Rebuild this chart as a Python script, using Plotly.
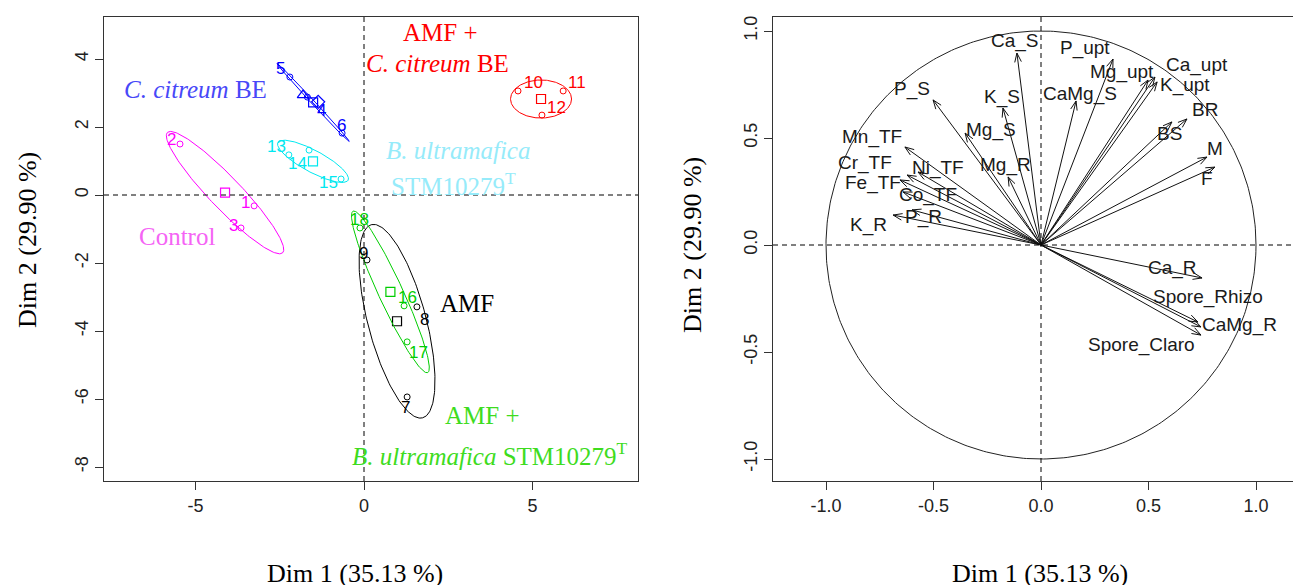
import numpy as np
import plotly.graph_objects as go

# ---------------- data: individuals (left panel) ----------------
ind_labels = ["1", "2", "3", "4", "5", "6", "7", "8", "9",
              "10", "11", "12", "13", "14", "15", "16", "17", "18"]
ind_dim1 = [-3.26, -5.46, -3.65, -1.68, -2.20, -0.65, 1.28, 1.57, 0.09,
            4.57, 5.91, 5.28, -2.23, -1.63, -0.68, 1.19, 1.28, -0.12]
ind_dim2 = [-0.32, 1.50, -0.97, 2.88, 3.47, 1.82, -5.94, -3.29, -1.91,
            3.06, 3.06, 2.35, 1.18, 1.32, 0.47, -3.26, -4.32, -0.97]
ind_group = ["Control", "Control", "Control",
             "Cc", "Cc", "Cc",
             "AMF", "AMF", "AMF",
             "AMF_Cc", "AMF_Cc", "AMF_Cc",
             "Bu", "Bu", "Bu",
             "AMF_Bu", "AMF_Bu", "AMF_Bu"]

groups = ["AMF", "AMF_Cc", "AMF_Bu", "Cc", "Bu", "Control"]
group_colors = ["#000000", "#FF0000", "#00CD00", "#0000FF", "#00E8F0", "#FF00FF"]
# confidence ellipse semi-axes and orientation (degrees)
ell_a = [2.94, 0.905, 2.62, 1.57, 1.18, 2.46]
ell_b = [0.86, 0.56, 0.36, 0.05, 0.32, 0.47]
ell_angle = [-75, 0, -65, -47, -28, -46]

# extra symbols seen in the C. citreum BE cluster
extra_dim1 = [-1.81, -1.36]
extra_dim2 = [2.94, 2.74]
extra_symbol = ["triangle-up-open", "diamond-open"]

# ---------------- data: variables (right panel) ----------------
var_names = ["Ca_S", "P_upt", "Mg_upt", "Ca_upt", "K_upt", "CaMg_S", "BR", "BS",
             "M", "F", "Ca_R", "Spore_Rhizo", "CaMg_R", "Spore_Claro",
             "P_S", "K_S", "Mg_S", "Mg_R", "Mn_TF", "Ni_TF", "Cr_TF",
             "Fe_TF", "Co_TF", "P_R", "K_R"]
var_dim1 = [-0.112, 0.335, 0.498, 0.530, 0.540, 0.163, 0.679, 0.609,
            0.772, 0.809, 0.749, 0.730, 0.744, 0.744,
            -0.502, -0.177, -0.353, -0.153, -0.633, -0.572, -0.623,
            -0.656, -0.642, -0.600, -0.688]
var_dim2 = [0.897, 0.869, 0.771, 0.785, 0.762, 0.673, 0.589, 0.575,
            0.411, 0.364, -0.154, -0.360, -0.383, -0.421,
            0.678, 0.640, 0.523, 0.318, 0.458, 0.341, 0.327,
            0.304, 0.248, 0.164, 0.140]

# tick values / labels
left_xticks = [-5, 0, 5]
left_xticktext = ["-5", "0", "5"]
left_yticks = [-8, -6, -4, -2, 0, 2, 4]
left_yticktext = ["-8", "-6", "-4", "-2", "0", "2", "4"]
right_ticks = [-1.0, -0.5, 0.0, 0.5, 1.0]
right_ticktext = ["-1.0", "-0.5", "0.0", "0.5", "1.0"]

# ---------------- styling ----------------
W, H = 1301, 586
OFF = 8                      # page body margin of the html
FW, FH = W - OFF, H - OFF    # figure size
SANS = "Liberation Sans, Arial, sans-serif"
SERIF = "Liberation Serif, Times New Roman, serif"

# label pixel offsets for individuals (dx, dy-up)
ind_label_off = [(-9, 3), (-9, 5), (-8, 2), (14, -13), (-9, 9), (-1, 8),
                 (-2, -11), (8, -13), (-4, 6), (15, 8), (14, 8), (15, 8),
                 (-12, 8), (-12, -13), (-13, -3), (3, 8), (11, -11), (0, 8)]
# label pixel offsets for variables
var_label_off = [(-2, 12), (-28, 11), (-26, 8), (42, 12), (28, -3), (4, 7),
                 (18, 9), (-2, -12), (8, 9), (-8, -11), (-30, 10), (10, 25),
                 (39, 2), (-59, -10), (-21, 11), (-1, 11), (26, 3), (-3, 12),
                 (-33, 10), (20, 4), (-42, 12), (-27, -3), (25, -3), (11, -7),
                 (-25, -10)]


def px_x(p):
    return (p - OFF) / FW


def px_y(p):
    return 1 - (p - OFF) / FH


fig = go.Figure()

# ---------- left panel ----------
t = np.linspace(0, 2 * np.pi, 200)
for g, col, a, b, ang in zip(groups, group_colors, ell_a, ell_b, ell_angle):
    idx = [i for i, gg in enumerate(ind_group) if gg == g]
    xs = np.array([ind_dim1[i] for i in idx])
    ys = np.array([ind_dim2[i] for i in idx])
    cx, cy = xs.mean(), ys.mean()
    th = np.deg2rad(ang)
    ex = cx + a * np.cos(t) * np.cos(th) - b * np.sin(t) * np.sin(th)
    ey = cy + a * np.cos(t) * np.sin(th) + b * np.sin(t) * np.cos(th)
    fig.add_trace(go.Scatter(x=ex, y=ey, mode="lines", line=dict(color=col, width=1),
                             xaxis="x", yaxis="y", hoverinfo="skip", showlegend=False))
    fig.add_trace(go.Scatter(x=xs, y=ys, mode="markers",
                             marker=dict(symbol="circle-open", size=6, color=col, line=dict(width=1)),
                             xaxis="x", yaxis="y", showlegend=False))
    fig.add_trace(go.Scatter(x=[cx], y=[cy], mode="markers",
                             marker=dict(symbol="square-open", size=9, color=col, line=dict(width=1.2)),
                             xaxis="x", yaxis="y", showlegend=False))

fig.add_trace(go.Scatter(x=extra_dim1, y=extra_dim2, mode="markers",
                         marker=dict(symbol=extra_symbol, size=10, color="#0000FF", line=dict(width=1.2)),
                         xaxis="x", yaxis="y", showlegend=False))

col_of = dict(zip(groups, group_colors))
for lab, x, y, g, (dx, dy) in zip(ind_labels, ind_dim1, ind_dim2, ind_group, ind_label_off):
    fig.add_annotation(x=x, y=y, xref="x", yref="y", text=lab, showarrow=False,
                       xshift=dx, yshift=dy,
                       font=dict(family=SANS, size=17, color=col_of[g]))

# ---------- right panel ----------
circ_t = np.linspace(0, 2 * np.pi, 400)
fig.add_trace(go.Scatter(x=np.cos(circ_t), y=np.sin(circ_t), mode="lines",
                         line=dict(color="#222222", width=1),
                         xaxis="x2", yaxis="y2", hoverinfo="skip", showlegend=False))

L = 0.045
ha = np.deg2rad(20)
ax_, ay_ = [], []
for x, y in zip(var_dim1, var_dim2):
    th = np.arctan2(y, x)
    ax_ += [0, x, None]
    ay_ += [0, y, None]
    ax_ += [x - L * np.cos(th + ha), x, x - L * np.cos(th - ha), None]
    ay_ += [y - L * np.sin(th + ha), y, y - L * np.sin(th - ha), None]
fig.add_trace(go.Scatter(x=ax_, y=ay_, mode="lines", line=dict(color="#111111", width=1),
                         xaxis="x2", yaxis="y2", hoverinfo="skip", showlegend=False))

for name, x, y, (dx, dy) in zip(var_names, var_dim1, var_dim2, var_label_off):
    fig.add_annotation(x=x, y=y, xref="x2", yref="y2", text=name, showarrow=False,
                       xshift=dx, yshift=dy,
                       font=dict(family=SANS, size=19, color="#1a1a1a"))

# ---------- zero lines ----------
dash = "5px,4px"
for xr, yr in (("x", "y"), ("x2", "y2")):
    fig.add_shape(type="line", xref=xr + " domain", x0=0, x1=1, yref=yr, y0=0, y1=0,
                  line=dict(color="black", width=1, dash=dash))
    fig.add_shape(type="line", xref=xr, x0=0, x1=0, yref=yr + " domain", y0=0, y1=1,
                  line=dict(color="black", width=1, dash=dash))

# ---------- group labels ----------
grp_labels = [
    ("<i>C. citreum</i> BE", 195, 90, "#4848F8"),
    ("AMF +", 440, 33, "#FF0000"),
    ("<i>C. citreum</i> BE", 438, 63, "#FF0000"),
    ("<i>B. ultramafica</i>", 458, 150, "#96EBFA"),
    ("STM10279<sup>T</sup>", 453, 184, "#96EBFA"),
    ("Control", 177, 236, "#F564F5"),
    ("AMF", 467, 303, "#000000"),
    ("AMF +", 482, 415, "#3EDC1E"),
    ("<i>B. ultramafica</i> STM10279<sup>T</sup>", 490, 454, "#3EDC1E"),
]
for txt, px, py, col in grp_labels:
    fig.add_annotation(x=px_x(px), y=px_y(py), xref="paper", yref="paper", text=txt,
                       showarrow=False, xanchor="center", yanchor="middle",
                       font=dict(family=SERIF, size=25, color=col))

# ---------- axis titles ----------
for txt, px, py, ang in [("Dim 1 (35.13 %)", 355, 573, 0), ("Dim 1 (35.13 %)", 1040, 573, 0)]:
    fig.add_annotation(x=px_x(px), y=px_y(py), xref="paper", yref="paper", text=txt,
                       showarrow=False, xanchor="center", yanchor="middle", height=24,
                       valign="middle", borderpad=0,
                       font=dict(family=SERIF, size=26, color="black"))
for txt, px, py in [("Dim 2 (29.90 %)", 28, 240), ("Dim 2 (29.90 %)", 693, 245)]:
    fig.add_annotation(x=px_x(px), y=px_y(py), xref="paper", yref="paper", text=txt,
                       showarrow=False, xanchor="center", yanchor="middle", textangle=-90,
                       font=dict(family=SERIF, size=26, color="black"))

ydom = [px_y(481), px_y(17)]
axis_common = dict(showgrid=False, zeroline=False, showline=True, linecolor="#333333",
                   linewidth=1, ticks="outside", ticklen=8, tickcolor="#333333",
                   tickfont=dict(family=SANS, size=18, color="#222222"))

fig.update_layout(
    width=FW, height=FH, margin=dict(l=0, r=0, t=0, b=0),
    paper_bgcolor="white", plot_bgcolor="white", showlegend=False,
    xaxis=dict(domain=[px_x(104), px_x(638)], range=[(104 - 364) / 33.7, (638 - 364) / 33.7],
               tickvals=left_xticks, ticktext=left_xticktext, anchor="y", mirror=True,
               **axis_common),
    yaxis=dict(domain=ydom, range=[(195 - 481) / 34.0, (195 - 17) / 34.0],
               tickvals=left_yticks, ticktext=left_yticktext, tickangle=-90, anchor="x",
               mirror=True, **axis_common),
    xaxis2=dict(domain=[px_x(773), 1.0], range=[(773 - 1041) / 215.0, (1301 - 1041) / 215.0],
                tickvals=right_ticks, ticktext=right_ticktext, anchor="y2", mirror=True,
                **axis_common),
    yaxis2=dict(domain=ydom, range=[(245 - 481) / 214.0, (245 - 17) / 214.0],
                tickvals=right_ticks, ticktext=right_ticktext, tickangle=-90, anchor="x2",
                mirror=False, **axis_common),
)

fig.write_html("out.html")
